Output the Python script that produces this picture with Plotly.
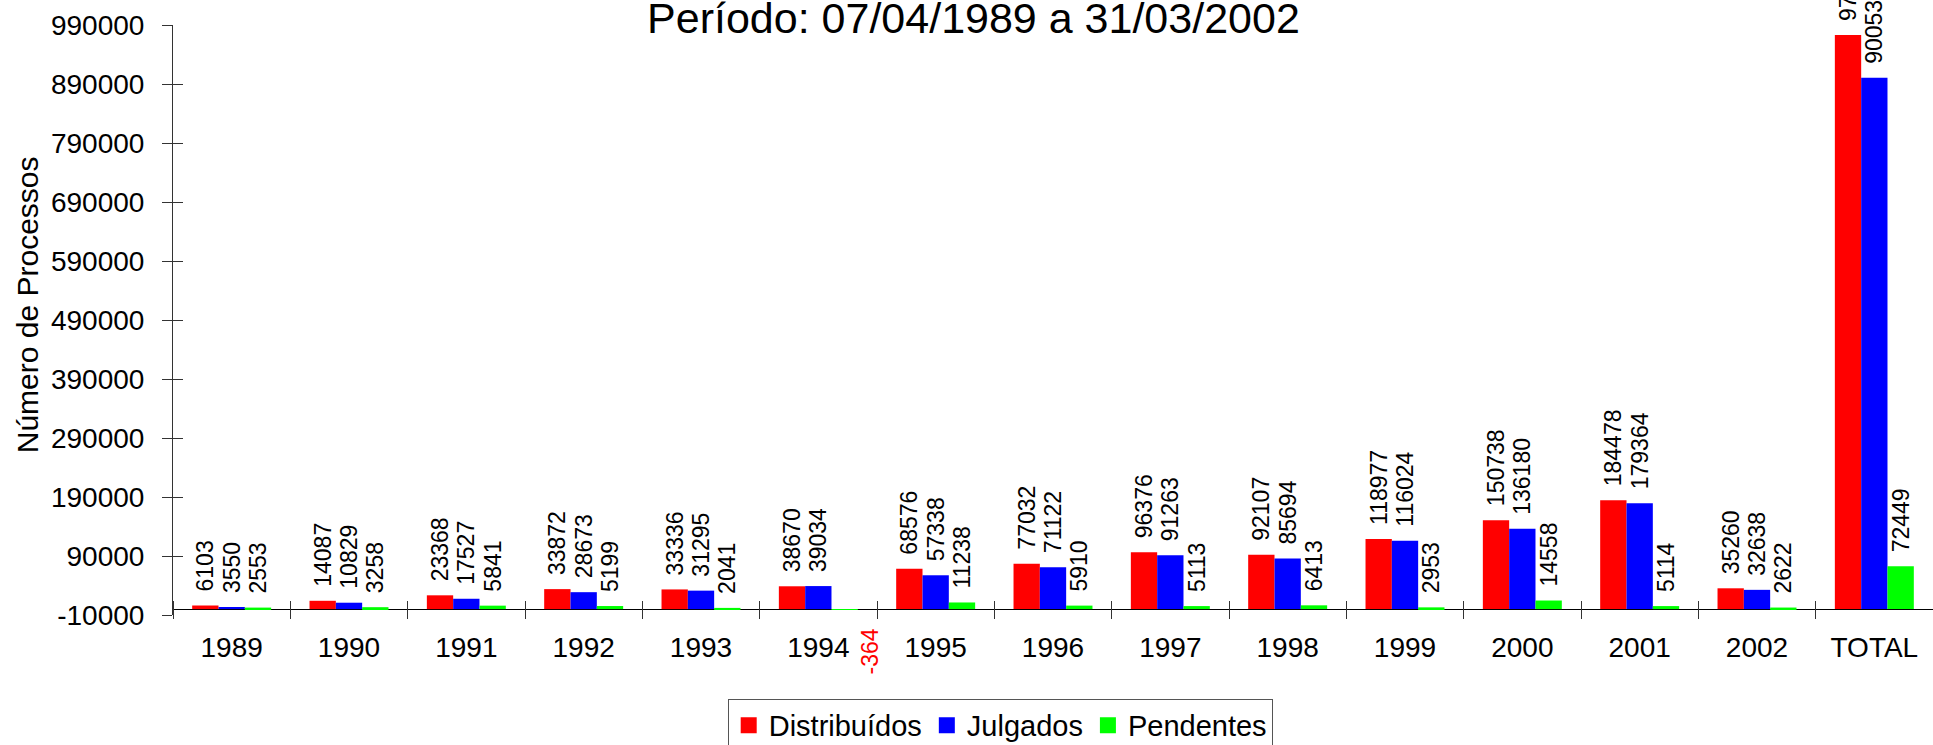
import plotly.graph_objects as go

# ---------------- data ----------------
categories = ['1989', '1990', '1991', '1992', '1993', '1994', '1995', '1996',
              '1997', '1998', '1999', '2000', '2001', '2002', 'TOTAL']
distribuidos = [6103, 14087, 23368, 33872, 33336, 38670, 68576, 77032,
                96376, 92107, 118977, 150738, 184478, 35260, 972980]
julgados = [3550, 10829, 17527, 28673, 31295, 39034, 57338, 71122,
            91263, 85694, 116024, 136180, 179364, 32638, 900531]
pendentes = [2553, 3258, 5841, 5199, 2041, -364, 11238, 5910,
             5113, 6413, 2953, 14558, 5114, 2622, 72449]
series_names = ['Distribuídos', 'Julgados', 'Pendentes']
series_colors = ['#FF0000', '#0000FF', '#00FF00']
ytick_vals = [-10000, 90000, 190000, 290000, 390000, 490000,
              590000, 690000, 790000, 890000, 990000]
ytick_text = [str(v) for v in ytick_vals]
title_text = 'Período: 07/04/1989 a 31/03/2002'
ytitle_text = 'Número de Processos'

FONT = 'Liberation Sans, Arial, Helvetica, sans-serif'
AXC = '#333333'

fig = go.Figure()
for name, vals, col in zip(series_names, [distribuidos, julgados, pendentes], series_colors):
    fig.add_trace(go.Bar(
        x=categories, y=vals, name=name, marker=dict(color=col, line=dict(width=0)),
        text=[('\u00a0\u2009' + str(v)) if v >= 0 else '' for v in vals],
        textposition='outside', textangle=-90, constraintext='none', cliponaxis=False,
        textfont=dict(family=FONT, size=23, color='black'),
        showlegend=False, hoverinfo='x+y'))

# legend entries (bigger square swatches)
for name, col in zip(series_names, series_colors):
    fig.add_trace(go.Scatter(
        x=[None], y=[None], mode='markers', name=name, yaxis='y2',
        marker=dict(symbol='square', size=16, color=col), hoverinfo='skip'))

# negative value label (drawn below the axis, in red)
for i, v in enumerate(pendentes):
    if v < 0:
        fig.add_annotation(x=i, y=0, xref='x', yref='y', text=str(v), showarrow=False,
                           textangle=-90, xanchor='center', yanchor='middle',
                           xshift=52, yshift=-42,
                           font=dict(family=FONT, size=23, color='#FF0000'))

# y axis title
fig.add_annotation(x=0, y=0.525, xref='paper', yref='paper', text=ytitle_text,
                   showarrow=False, textangle=-90, xanchor='center', yanchor='middle',
                   xshift=-146, font=dict(family=FONT, size=30, color='black'))

fig.update_layout(
    width=1933, height=745,
    paper_bgcolor='white', plot_bgcolor='white',
    font=dict(family=FONT, color='black'),
    barmode='group', bargap=0.327, bargroupgap=0,
    margin=dict(l=173, r=0, t=25, b=130, autoexpand=False),
    title=dict(text=title_text, x=0.5036, y=0.9758, xanchor='center', yanchor='middle',
               xref='container', yref='container',
               font=dict(family=FONT, size=43, color='black')),
    xaxis=dict(type='category', range=[-0.5, len(categories) - 0.5],
               anchor='free', position=15 / 590,
               showline=False, showgrid=False, zeroline=False,
               ticks='outside', ticklen=18, tickwidth=1, tickcolor=AXC,
               tickson='boundaries', ticklabelstandoff=28,
               tickfont=dict(family=FONT, size=28, color='black')),
    yaxis=dict(range=[-10000, 990000], tickmode='array', tickvals=ytick_vals, ticktext=ytick_text,
               ticks='outside', ticklen=10, tickwidth=1, tickcolor=AXC,
               showline=True, linecolor=AXC, linewidth=1,
               showgrid=False, zeroline=True, zerolinecolor='black', zerolinewidth=1,
               ticklabelstandoff=12,
               tickfont=dict(family=FONT, size=28, color='black')),
    yaxis2=dict(overlaying='y', side='left', anchor='x',
                range=[-10000, 990000], tickmode='array', tickvals=ytick_vals,
                ticks='inside', ticklen=10, tickwidth=1, tickcolor=AXC,
                showticklabels=False, showline=False, showgrid=False, zeroline=False),
    legend=dict(orientation='h', x=0.47, y=-0.142, xanchor='center', yanchor='top',
                font=dict(family=FONT, size=29, color='black'),
                bgcolor='white', bordercolor='#555555', borderwidth=1),
)

fig.write_html('out.html', config={'displayModeBar': False},
               post_script="document.body.style.margin='0px';")
